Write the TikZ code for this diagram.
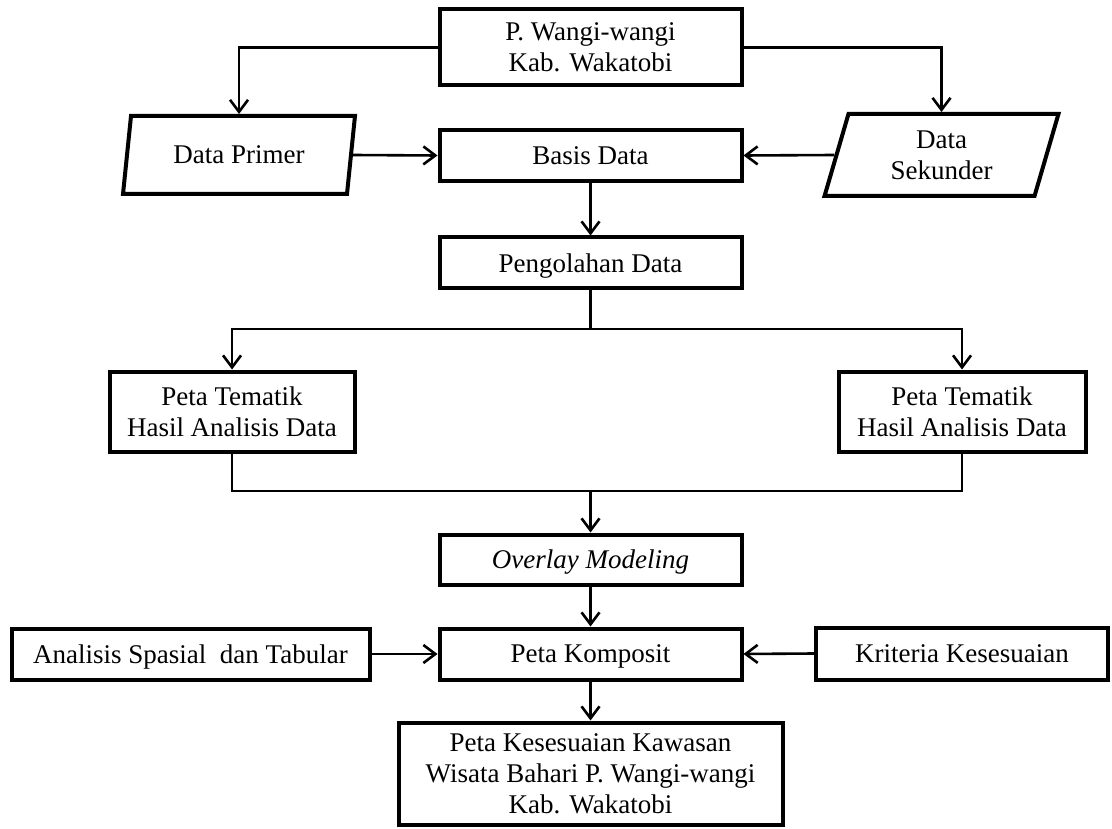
\documentclass[tikz,border=0pt]{standalone}
\usepackage{fontspec}
\setmainfont{Liberation Serif}
\usepackage{tikz}
\usetikzlibrary{arrows.meta,shapes.geometric}
\tikzstyle{kotak} = [rectangle, draw=black, line width=4pt, inner sep=0pt, align=center, text depth=0pt, font=\fontsize{27}{31}\selectfont]
\tikzstyle{jajargenjang} = [trapezium, trapezium left angle=75, trapezium right angle=105, trapezium stretches=true, draw=black, line width=4pt, inner sep=0pt, align=center, font=\fontsize{27}{31}\selectfont]
\tikzstyle{garis} = [line width=2.6pt]
\tikzstyle{panah} = [garis, -{Straight Barb[length=12pt,width=18pt]}]

\begin{document}
\begin{tikzpicture}[x=1pt, y=-1pt]
\useasboundingbox (0,0) rectangle (1112,829);
% Lokasi dan sumber data
\node (wangi) [kotak, minimum width=302pt, minimum height=76pt] at (590.5,47.5) {P. Wangi-wangi\\Kab. Wakatobi};
\node (primer) [jajargenjang, minimum width=232pt, minimum height=78pt] at (239,155) {Data Primer};
\node (basis) [kotak, minimum width=302pt, minimum height=51pt] at (590.5,155.5) {Basis Data};
\node (sekunder) [jajargenjang, minimum width=234pt, minimum height=82pt] at (941.5,155) {Data\\Sekunder};
\node (olah) [kotak, minimum width=302pt, minimum height=51pt] at (590.5,263) {Pengolahan Data};

% Peta tematik
\node (petakiri) [kotak, minimum width=245pt, minimum height=80pt] at (232,411.5) {Peta Tematik\\Hasil Analisis Data};
\node (petakanan) [kotak, minimum width=247pt, minimum height=80pt] at (962,411.5) {Peta Tematik\\Hasil Analisis Data};

% Overlay dan hasil
\node (overlay) [kotak, minimum width=302pt, minimum height=50pt] at (590.5,559.5) {\itshape Overlay Modeling};
\node (komposit) [kotak, minimum width=302pt, minimum height=51pt] at (590.5,654) {Peta Komposit};
\node (analisis) [kotak, minimum width=358pt, minimum height=51pt] at (190.5,654) {Analisis Spasial~ dan Tabular};
\node (kriteria) [kotak, minimum width=292pt, minimum height=52pt] at (962,653.5) {Kriteria Kesesuaian};
\node (hasil) [kotak, minimum width=384pt, minimum height=102pt] at (590.5,773.5) {Peta Kesesuaian Kawasan\\Wisata Bahari P. Wangi-wangi\\Kab. Wakatobi};

\coordinate (cabang) at (590.5,329);
\coordinate (gabung) at (590.5,491);

% Panah
\draw[panah] (wangi.west) -| (primer.north);
\draw[panah] (wangi.east) -| (sekunder.north);
\draw[panah] (primer.east) -- (basis.west);
\draw[panah] (sekunder.west) -- (basis.east);
\draw[panah] (basis.south) -- (olah.north);
\draw[garis] (olah.south) -- (cabang);
\draw[panah] (cabang) -| (petakiri.north);
\draw[panah] (cabang) -| (petakanan.north);
\draw[garis] (petakiri.south) |- (gabung);
\draw[garis] (petakanan.south) |- (gabung);
\draw[panah] (gabung) -- (overlay.north);
\draw[panah] (overlay.south) -- (komposit.north);
\draw[panah] (analisis.east) -- (komposit.west);
\draw[panah] (kriteria.west) -- (komposit.east);
\draw[panah] (komposit.south) -- (hasil.north);
\end{tikzpicture}
\end{document}
